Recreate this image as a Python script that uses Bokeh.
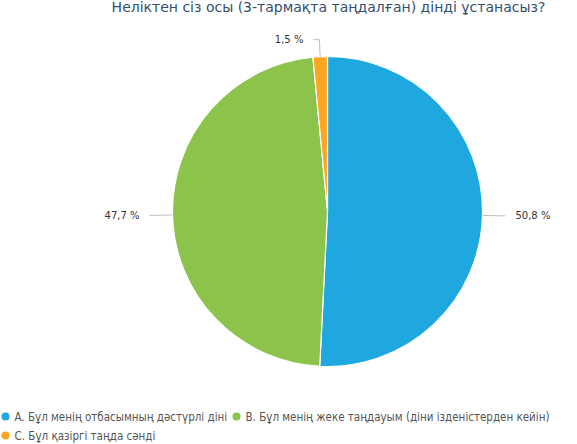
import math
from bokeh.plotting import figure
from bokeh.models import Range1d
from bokeh.core.properties import value
from bokeh.embed import file_html
from bokeh.resources import INLINE

# Survey answers and their shares (%)
categories = [
    "A. Бұл менің отбасымның дәстүрлі діні",
    "B. Бұл менің жеке таңдауым (діни ізденістерден кейін)",
    "C. Бұл қазіргі таңда сәнді",
]
shares = [50.8, 47.7, 1.5]
share_labels = ["50,8 %", "47,7 %", "1,5 %"]
colors = ["#1FA8E0", "#8CC34B", "#FFA522"]
title = "Неліктен сіз осы (3-тармақта таңдалған) дінді ұстанасыз?"

W, H = 577, 444
p = figure(width=W, height=H, output_backend="svg", toolbar_location=None,
           x_range=Range1d(0, W), y_range=Range1d(0, H), min_border=0)
p.axis.visible = False
p.grid.visible = False
p.outline_line_color = None
p.background_fill_color = "white"
p.border_fill_color = "white"

# pie geometry in pixel-like units (y measured upward)
cx, cy, r = 327, H - 211, 155
total = sum(shares)
start = math.pi / 2
starts, ends, mids = [], [], []
for s in shares:
    sweep = 2 * math.pi * s / total
    starts.append(start)
    ends.append(start - sweep)
    mids.append(start - sweep / 2)
    start -= sweep

p.wedge(x=[cx] * 3, y=[cy] * 3, radius=r, start_angle=ends, end_angle=starts,
        fill_color=colors, line_color="white", line_width=1.2)

# leader lines and value labels
for lab, a in zip(share_labels, mids):
    x0, y0 = cx + r * math.cos(a), cy + r * math.sin(a)
    x1, y1 = cx + (r + 17) * math.cos(a), cy + (r + 17) * math.sin(a)
    right = math.cos(a) > 0
    x2 = x1 + (6 if right else -6)
    p.line([x0, x1, x2], [y0, y1, y1], line_color="#BDBDBD", line_width=1)
    p.text(x=[x2 + (10 if right else -10)], y=[y1], text=[lab],
           text_align="left" if right else "right", text_baseline="middle",
           text_font=value("DejaVu Sans"), text_font_size="10px", text_color="#333333")

# title
p.text(x=[328], y=[H - 6], text=[title], text_align="center", text_baseline="alphabetic",
       text_font=value("DejaVu Sans"), text_font_size="14px", text_color="#33506E")

# legend
legend_pos = [(5, 416), (236, 416), (5, 435)]
for (lx, ly), name, col in zip(legend_pos, categories, colors):
    p.scatter(x=[lx], y=[H - ly], size=8, marker="circle", fill_color=col, line_color=None)
    p.text(x=[lx + 9], y=[H - ly], text=[name], text_align="left", text_baseline="middle",
           text_font=value("DejaVu Sans Condensed"), text_font_size="11.5px", text_color="#555555")

open("out.html", "w").write(file_html(p, INLINE))
